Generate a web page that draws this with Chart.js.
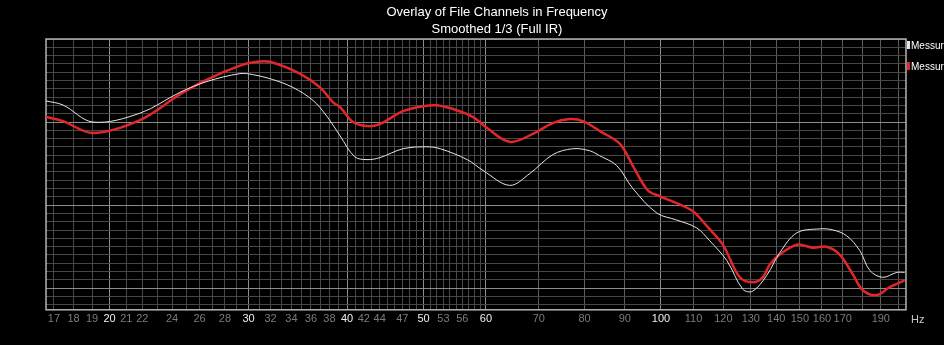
<!DOCTYPE html>
<html>
<head>
<meta charset="utf-8">
<script src="https://cdn.jsdelivr.net/npm/chart.js@4/dist/chart.umd.min.js"></script>
<style>
  html, body { margin: 0; padding: 0; background: #000; }
  canvas { display: block; }
</style>
</head>
<body>
<canvas id="c" width="944" height="345"></canvas>
<script>
// ---- Data ----
const TITLE_LINES = ["Overlay of File Channels in Frequency", "Smoothed 1/3 (Full IR)"];
const SERIES_NAMES = ["Messurement 1", "Messurement 2"];

const FREQ_WHITE = [16.61, 17.45, 19.05, 21.85, 24.55, 26.57, 29.26, 30.38, 32.2, 34.15, 36.2, 37.7, 39.2, 40.9, 42.4, 44.0, 47.1, 50.5, 52.5, 56.8, 59.5, 64.3, 68.2, 72.9, 77.3, 81.2, 83.6, 87.9, 92.1, 98.8, 104.7, 111.0, 115.3, 121.2, 127.0, 130.7, 136.2, 141.5, 148.7, 158.9, 165.1, 172.0, 178.7, 184.0, 191.0, 199.1, 203.7];
const DB_WHITE   = [-7.46, -7.94, -10.0, -8.93, -6.43, -5.12, -4.17, -4.29, -4.88, -5.83, -7.38, -9.29, -11.67, -14.17, -14.52, -14.29, -13.21, -12.98, -13.21, -14.52, -15.83, -17.62, -16.19, -13.93, -13.21, -13.45, -14.05, -15.24, -17.98, -20.95, -21.79, -22.74, -24.29, -26.67, -30.12, -30.36, -28.45, -25.71, -23.33, -22.86, -22.98, -23.69, -25.48, -27.86, -28.69, -28.1, -28.1];

const FREQ_RED = [16.61, 17.45, 19.05, 21.85, 24.55, 26.57, 29.26, 30.7, 31.93, 34.85, 36.96, 38.4, 39.2, 40.7, 42.4, 44.0, 47.1, 49.9, 52.0, 55.1, 57.8, 60.2, 64.3, 68.8, 72.9, 76.6, 79.6, 83.6, 88.7, 92.1, 96.2, 99.7, 104.7, 109.7, 114.3, 119.8, 125.9, 130.7, 134.6, 137.4, 141.5, 148.7, 155.8, 162.2, 168.5, 175.1, 180.3, 187.7, 195.0, 203.7];
const DB_RED   = [-9.40, -9.88, -11.31, -9.76, -6.67, -4.88, -3.21, -2.74, -2.74, -4.17, -5.83, -7.62, -8.21, -10.0, -10.48, -10.24, -8.69, -8.10, -7.98, -8.57, -9.40, -10.71, -12.38, -11.43, -10.12, -9.64, -9.88, -11.07, -12.62, -15.24, -18.21, -18.93, -19.76, -20.71, -22.5, -24.76, -28.69, -29.29, -28.69, -27.14, -25.95, -24.76, -25.12, -25.0, -25.95, -28.33, -30.24, -30.83, -29.88, -29.05];

// Frequency grid lines and labels
const GRID_FREQS = [17,18,19,20,21,22,23,24,25,26,27,28,29,30,31,32,33,34,35,36,37,38,39,40,41,42,43,44,45,46,47,48,49,50,51,52,53,54,55,56,57,58,59,60,70,80,90,100,110,120,130,140,150,160,170,180,190,200];
const TICK_LABELS = [17,18,19,20,21,22,24,26,28,30,32,34,36,38,40,42,44,47,50,53,56,60,70,80,90,100,110,120,130,140,150,160,170,190];
const MAJOR_LABELS = [20,30,40,50,60,100];
// Level grid (dB), 1 dB per line
const LEVEL_GRID = [-32,-31,-30,-29,-28,-27,-26,-25,-24,-23,-22,-21,-20,-19,-18,-17,-16,-15,-14,-13,-12,-11,-10,-9,-8,-7,-6,-5,-4,-3,-2,-1,0];
const LEVEL_MAJOR = [-30,-20,-10];
const FREQ_MIN = 16.61, FREQ_MAX = 204.5, LEVEL_MIN = -32.6, LEVEL_MAX = 0;

function pts(xs, ys) { return xs.map((x, i) => ({ x: x, y: ys[i] })); }

const deco = {
  id: 'deco',
  beforeDraw(chart) {
    const c = chart.ctx;
    c.save();
    c.fillStyle = '#000';
    c.fillRect(0, 0, chart.width, chart.height);
    c.restore();
  },
  beforeDatasetsDraw(chart) {
    const a = chart.chartArea, c = chart.ctx;
    c.save();
    c.strokeStyle = '#b4b4b4';
    c.lineWidth = 1.5;
    c.strokeRect(a.left, a.top, a.right - a.left, a.bottom - a.top);
    c.restore();
  },
  afterDraw(chart) {
    const c = chart.ctx, a = chart.chartArea;
    c.save();
    c.fillStyle = '#ffffff';
    c.textAlign = 'center';
    c.textBaseline = 'middle';
    c.font = '13px "Liberation Sans", Arial, sans-serif';
    c.fillText(TITLE_LINES[0], 497, 12);
    c.fillText(TITLE_LINES[1], 497, 29);
    // legend
    c.textAlign = 'left';
    c.font = '10px "Liberation Sans", Arial, sans-serif';
    const cols = chart.data.datasets.map(d => d.borderColor);
    [45, 66].forEach((y, i) => {
      c.fillStyle = cols[i];
      c.fillRect(a.right + 1, y - 4, 3, 8);
      c.fillStyle = '#ffffff';
      c.fillText(SERIES_NAMES[i], a.right + 5, y + 1);
    });
    // unit
    c.fillStyle = '#c8c8c8';
    c.font = '11px "Liberation Sans", Arial, sans-serif';
    c.fillText('Hz', a.right + 5, 320);
    c.restore();
  }
};

new Chart(document.getElementById('c'), {
  type: 'line',
  data: {
    datasets: [
      { label: SERIES_NAMES[0], data: pts(FREQ_WHITE, DB_WHITE), borderColor: '#e6e6e6', borderWidth: 1, pointRadius: 0, tension: 0.35, fill: false },
      { label: SERIES_NAMES[1], data: pts(FREQ_RED, DB_RED), borderColor: '#e2262a', borderWidth: 2.5, pointRadius: 0, tension: 0.35, fill: false }
    ]
  },
  options: {
    responsive: false,
    animation: false,
    devicePixelRatio: 1,
    layout: { padding: { top: 39, left: 46, right: 38, bottom: 16 } },
    plugins: { legend: { display: false }, title: { display: false }, tooltip: { enabled: false } },
    scales: {
      x: {
        type: 'logarithmic',
        min: FREQ_MIN, max: FREQ_MAX,
        afterBuildTicks: (ax) => { ax.ticks = GRID_FREQS.map(v => ({ value: v })); },
        border: { display: false },
        grid: {
          drawTicks: false,
          lineWidth: 1,
          color: (ctx) => {
            const v = ctx.tick ? ctx.tick.value : 0;
            if (MAJOR_LABELS.includes(v)) return '#8c8c8c';
            if (v > 60) return '#5e5e5e';
            return '#484848';
          }
        },
        ticks: {
          autoSkip: false, maxRotation: 0, minRotation: 0, padding: 3,
          font: { family: '"Liberation Sans", Arial, sans-serif', size: 11 },
          color: (ctx) => (ctx.tick && MAJOR_LABELS.includes(ctx.tick.value)) ? '#f0f0f0' : '#7c7c7c',
          callback: (v) => TICK_LABELS.includes(v) ? String(v) : ''
        }
      },
      y: {
        type: 'linear',
        min: LEVEL_MIN, max: LEVEL_MAX,
        afterBuildTicks: (ax) => { ax.ticks = LEVEL_GRID.map(v => ({ value: v })); },
        afterFit: (ax) => { ax.width = 0; },
        border: { display: false },
        grid: {
          drawTicks: false,
          color: (ctx) => {
            const v = ctx.tick ? ctx.tick.value : 0;
            return LEVEL_MAJOR.includes(v) ? '#8c8c8c' : '#484848';
          }
        },
        ticks: { display: false }
      }
    }
  },
  plugins: [deco]
});
</script>
</body>
</html>
